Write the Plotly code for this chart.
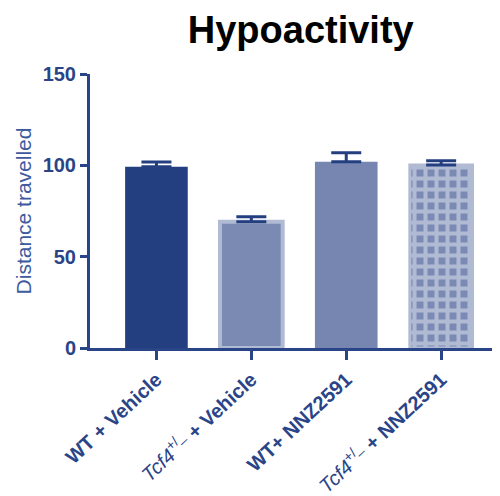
import plotly.graph_objects as go

width = 492
height = 488

groups = ['WT + Vehicle', 'Tcf4+/- + Vehicle', 'WT+ NNZ2591', 'Tcf4+/- + NNZ2591']
tick_labels = [
    '<b>WT + Vehicle</b>',
    '<i>Tcf4</i><sup>+/_</sup><b> + Vehicle</b>',
    '<b>WT+ NNZ2591</b>',
    '<i>Tcf4</i><sup>+/_</sup><b> + NNZ2591</b>',
]
means = [99.2, 69.1, 102.0, 100.2]
sem = [2.6, 2.8, 4.9, 2.3]

NAVY = '#243f80'
AXIS = '#2a4488'
fills = [NAVY, '#7a8ab3', '#7686b0', '#7b8ab5']
borders = [NAVY, '#b0bad3', '#7686b0', '#b0bad3']
border_w = [0, 4, 0, 3]
patterns = ['', '', '', '+']

fig = go.Figure()

x_pos = list(range(len(groups)))

# one trace per bar so each pattern keeps its own colours
for i in x_pos:
    fig.add_trace(go.Bar(
        x=[i],
        y=[means[i]],
        width=0.66,
        marker=dict(
            color=fills[i],
            line=dict(color=borders[i], width=border_w[i]),
            pattern=dict(
                shape=patterns[i],
                bgcolor=fills[i],
                fgcolor='#b0bad3',
                fgopacity=1,
                size=11,
                solidity=0.6,
                fillmode='replace',
            ),
        ),
        error_y=dict(type='data', array=[sem[i]], arrayminus=[0], symmetric=False,
                     color=NAVY, thickness=3, width=15),
        name=groups[i],
        showlegend=False,
    ))

fig.update_layout(
    width=width,
    height=height,
    barmode='overlay',
    margin=dict(l=82, r=0, t=66, b=148),
    plot_bgcolor='white',
    paper_bgcolor='white',
    title=dict(text='<b>Hypoactivity</b>', x=0.595, xanchor='center', y=0.955, yanchor='middle',
               font=dict(family='Liberation Sans', size=38, color='black')),
    xaxis=dict(
        range=[-0.7, 3.62],
        automargin=False,
        tickmode='array',
        tickvals=x_pos,
        ticktext=tick_labels,
        tickangle=-43,
        tickfont=dict(family='Liberation Sans', size=20, color=AXIS),
        showline=True, linecolor=AXIS, linewidth=3,
        ticks='outside', ticklen=9, tickwidth=3, tickcolor=AXIS,
        showgrid=False, zeroline=False,
    ),
    yaxis=dict(
        range=[0, 150],
        automargin=False,
        tickvals=[0, 50, 100, 150],
        tickfont=dict(family='Liberation Sans', size=20, color=AXIS, weight='bold'),
        ticklabelstandoff=0,
        showline=True, linecolor=AXIS, linewidth=3,
        ticks='outside', ticklen=7, tickwidth=3, tickcolor=AXIS,
        showgrid=False, zeroline=False,
        title=dict(text='Distance travelled', standoff=6,
                   font=dict(family='Liberation Sans', size=21, color='#3d5a9e')),
    ),
)

fig.write_html("out.html")
